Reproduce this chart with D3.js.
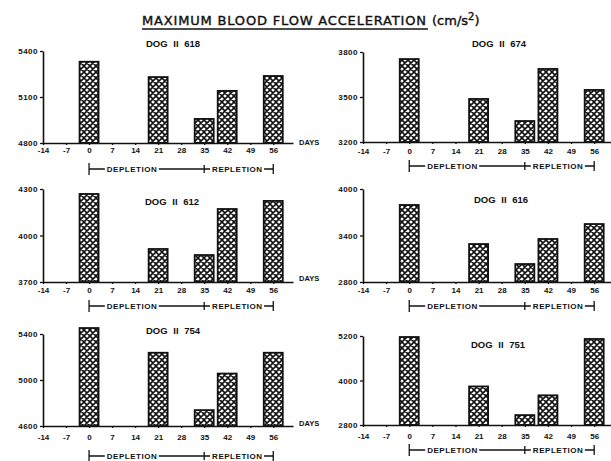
<!DOCTYPE html>
<html>
<head>
<meta charset="utf-8">
<script src="https://cdn.jsdelivr.net/npm/d3@7"></script>
<style>
  body { margin: 0; background: #fff; }
  text { font-family: "Liberation Sans", Arial, sans-serif; fill: #111; }
</style>
</head>
<body>
<div class="canvas"></div>
<script>
// data
const days = [0, 21, 35, 42, 56];
const dayTicks = [-14, -7, 0, 7, 14, 21, 28, 35, 42, 49, 56];
const dogNames = ['DOG II 618', 'DOG II 674', 'DOG II 612', 'DOG II 616', 'DOG II 754', 'DOG II 751'];
const dog618 = [5330, 5230, 4957, 5140, 5237];
const dog674 = [3753, 3487, 3340, 3687, 3547];
const dog612 = [4268, 3913, 3874, 4171, 4223];
const dog616 = [3794, 3290, 3032, 3355, 3548];
const dog754 = [5452, 5237, 4738, 5056, 5237];
const dog751 = [5173, 3840, 3067, 3600, 5120];
const yTicks618 = [4800, 5100, 5400];
const yTicks674 = [3200, 3500, 3800];
const yTicks612 = [3700, 4000, 4300];
const yTicks616 = [2800, 3400, 4000];
const yTicks754 = [4600, 5000, 5400];
const yTicks751 = [2800, 4000, 5200];

const series = [dog618, dog674, dog612, dog616, dog754, dog751];
const yTicks = [yTicks618, yTicks674, yTicks612, yTicks616, yTicks754, yTicks751];

// layout of each small panel
const panels = [
  {x0: 43,  x1: 293, base: 143, top: 51,  brY: 169, lab: 7,  tx: 173, ty: 47},
  {x0: 363, x1: 614, base: 142, top: 52,  brY: 166, lab: 9,  tx: 499, ty: 47},
  {x0: 43,  x1: 293, base: 282, top: 189, brY: 306, lab: 8,  tx: 172, ty: 205},
  {x0: 363, x1: 614, base: 282, top: 189, brY: 306, lab: 8.5, tx: 501, ty: 203},
  {x0: 43,  x1: 293, base: 426, top: 334, brY: 456, lab: 11, tx: 173, ty: 334},
  {x0: 363, x1: 614, base: 425, top: 336, brY: 450, lab: 11, tx: 498, ty: 348}
];
const daysLabelY = [142, 278, 423];

const svg = d3.select('.canvas')
    .append('svg')
        .attr('width', 611)
        .attr('height', 461);

// cross hatch fill
const pat = svg.append('defs').append('pattern')
    .attr('id', 'hatch')
    .attr('patternUnits', 'userSpaceOnUse')
    .attr('width', 6)
    .attr('height', 6);
pat.append('rect').attr('width', 6).attr('height', 6).attr('fill', '#fff');
pat.append('path')
    .attr('d', 'M0,0L6,6M6,0L0,6M-1,5L1,7M5,-1L7,1M-1,1L1,-1M5,7L7,5')
    .attr('stroke', '#111')
    .attr('stroke-width', 1.6);

// title
const title = svg.append('text')
    .attr('x', 142)
    .attr('y', 25)
    .style('font-family', '"DejaVu Sans", sans-serif')
    .style('font-size', '13px')
    .attr('stroke', '#111')
    .attr('stroke-width', 0.4);
title.append('tspan').text('MAXIMUM  BLOOD  FLOW  ACCELERATION').attr('textLength', 284);
title.append('tspan').attr('x', 432).text('(cm/s');
title.append('tspan').attr('dy', -5).style('font-size', '10px').text('2');
title.append('tspan').attr('dy', 5).text(')');
svg.append('line')
    .attr('x1', 142).attr('x2', 428)
    .attr('y1', 29).attr('y2', 29)
    .attr('stroke', '#111').attr('stroke-width', 1.5);

panels.forEach((p, i) => {
    const data = series[i];
    const ticks = yTicks[i];
    const g = svg.append('g');

    const x = d3.scaleLinear()
        .domain([-14, 62])
        .range([p.x0, p.x1]);
    const y = d3.scaleLinear()
        .domain([ticks[0], ticks[ticks.length - 1]])
        .range([p.base, p.top]);

    // bars
    g.selectAll('rect')
        .data(data)
        .enter()
        .append('rect')
            .attr('x', (d, j) => x(days[j]) - 9.5)
            .attr('width', 19)
            .attr('y', d => y(d))
            .attr('height', d => p.base - y(d))
            .attr('fill', 'url(#hatch)')
            .attr('stroke', '#111')
            .attr('stroke-width', 1.8);

    // axes
    const xAxis = d3.axisBottom(x)
        .tickValues(dayTicks)
        .tickSize(2)
        .tickSizeOuter(0)
        .tickPadding(p.lab - 5)
        .tickFormat(d => String(d));
    const xg = g.append('g')
        .attr('transform', `translate(0,${p.base})`)
        .call(xAxis);
    xg.select('.domain').attr('stroke-width', 1.6).attr('stroke', '#111');
    xg.selectAll('.tick line').attr('stroke', '#111').attr('stroke-width', 1.3);
    xg.selectAll('.tick text')
        .style('font-size', '8px')
        .style('font-weight', 'bold')
        .style('font-family', '"Liberation Sans", sans-serif')
        .attr('fill', '#111');

    const yAxis = d3.axisLeft(y)
        .tickValues(ticks)
        .tickSize(3)
        .tickSizeOuter(0)
        .tickPadding(2)
        .tickFormat(d3.format('d'));
    const yg = g.append('g')
        .attr('transform', `translate(${p.x0},0)`)
        .call(yAxis);
    yg.select('.domain').attr('stroke-width', 1.6).attr('stroke', '#111');
    yg.selectAll('.tick line').attr('stroke', '#111').attr('stroke-width', 1.3);
    yg.selectAll('.tick text')
        .style('font-size', '8px')
        .style('font-weight', 'bold')
        .style('letter-spacing', '0.5px')
        .style('font-family', '"Liberation Sans", sans-serif')
        .attr('fill', '#111');

    // dog name
    g.append('text')
        .attr('x', p.tx)
        .attr('y', p.ty)
        .attr('text-anchor', 'middle')
        .style('font-size', '9.5px')
        .style('font-weight', 'bold')
        .style('word-spacing', '3px')
        .text(dogNames[i]);

    // depletion / repletion bracket
    const by = p.brY;
    const br = g.append('g').attr('stroke', '#111').attr('stroke-width', 1.3);
    br.append('line').attr('x1', x(0)).attr('x2', x(56)).attr('y1', by).attr('y2', by);
    br.append('line').attr('x1', x(0)).attr('x2', x(0)).attr('y1', by - 6).attr('y2', by + 6);
    br.append('line').attr('x1', x(35)).attr('x2', x(35)).attr('y1', by - 4).attr('y2', by + 4);
    br.append('line').attr('x1', x(56)).attr('x2', x(56)).attr('y1', by - 5).attr('y2', by + 5);

    [['DEPLETION', 13], ['REPLETION', 45]].forEach(([t, d]) => {
        const w = 50;
        g.append('rect')
            .attr('x', x(d) - w / 2 - 2)
            .attr('y', by - 4)
            .attr('width', w + 4)
            .attr('height', 8)
            .attr('fill', '#fff');
        g.append('text')
            .attr('x', x(d))
            .attr('y', by + 2.8)
            .attr('text-anchor', 'middle')
            .attr('textLength', w)
            .style('font-size', '8px')
            .style('font-weight', 'bold')
            .text(t);
    });
});

// DAYS labels between the columns
daysLabelY.forEach(yy => {
    svg.append('text')
        .attr('x', 299)
        .attr('y', yy + 2.7)
        .style('font-size', '7.5px')
        .style('font-weight', 'bold')
        .text('DAYS');
});
</script>
</body>
</html>
